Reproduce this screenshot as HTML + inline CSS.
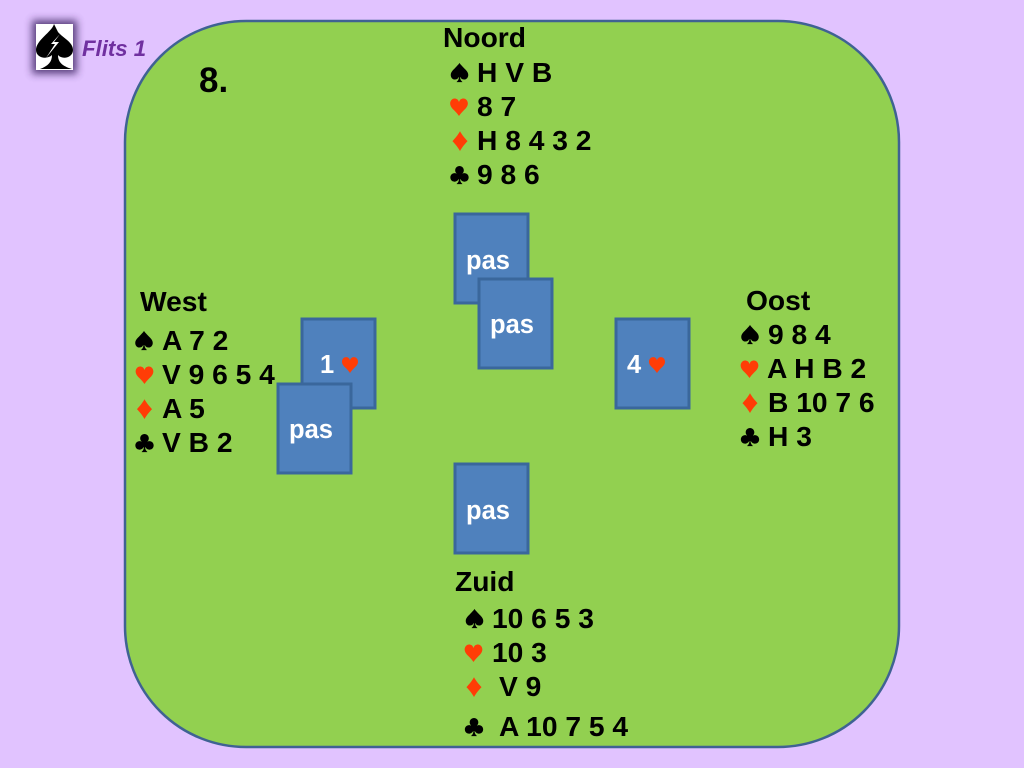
<!DOCTYPE html>
<html><head><meta charset="utf-8"><style>
html,body{margin:0;padding:0;background:#e1c3ff;width:1024px;height:768px;overflow:hidden}
svg{display:block}
text{font-family:"Liberation Sans",sans-serif;font-weight:bold;font-size:28.2px;fill:#000;white-space:pre}
.s{font-family:"Noto Sans CJK JP",sans-serif;font-size:21px;text-anchor:middle;font-weight:normal}
.r{fill:#ff3d06}
.w{fill:#fff;font-size:25.5px}
.c{fill:#4f81bd;stroke:#3a679c;stroke-width:3}
</style></head><body>
<svg width="1024" height="768" viewBox="0 0 1024 768" xmlns="http://www.w3.org/2000/svg">
<defs><filter id="b" x="-60%" y="-60%" width="220%" height="220%"><feGaussianBlur stdDeviation="4"/></filter></defs>
<rect x="125" y="21" width="774" height="726" rx="121" fill="#92d050" stroke="#3f6293" stroke-width="2.5"/>
<rect x="32" y="20" width="45" height="54" fill="#3a2060" opacity=".8" filter="url(#b)"/>
<rect x="36" y="24" width="37" height="46" fill="#fff"/>
<path d="M54 24C52 32 36 40 36 50C36 58 47 60 52 55C52 62 48 66 40 69L72 69C62 66 58 62 58 55C62 60 73 58 73 50C73 42 63 38 58 32Z" fill="#000"/>
<path d="M60 34L51 44L55 44L46 58L59 42L54 42Z" fill="#fff"/>
<text x="82" y="56" style="font-size:22.2px;font-style:italic;fill:#7030a0">Flits 1</text>
<text x="199" y="92" style="font-size:35px">8.</text>

<text x="443" y="47">Noord</text>
<text class="s" x="459.5" y="81">♠</text><text x="477" y="82">H V B</text>
<text class="s r" x="459" y="115">♥</text><text x="477" y="116">8 7</text>
<text class="s r" x="460" y="149">♦</text><text x="477" y="150">H 8 4 3 2</text>
<text class="s" x="459.5" y="183">♣</text><text x="477" y="184">9 8 6</text>

<text x="140" y="311">West</text>
<text class="s" x="144" y="349">♠</text><text x="162" y="350">A 7 2</text>
<text class="s r" x="144.5" y="383">♥</text><text x="162" y="384">V 9 6 5 4</text>
<text class="s r" x="144.5" y="417">♦</text><text x="162" y="418">A 5</text>
<text class="s" x="144.5" y="451">♣</text><text x="162" y="452">V B 2</text>

<text x="746" y="310">Oost</text>
<text class="s" x="750" y="343">♠</text><text x="768" y="344">9 8 4</text>
<text class="s r" x="749.5" y="377">♥</text><text x="767" y="378">A H B 2</text>
<text class="s r" x="750" y="411">♦</text><text x="768" y="412">B 10 7 6</text>
<text class="s" x="750" y="445">♣</text><text x="768" y="446">H 3</text>

<text x="455" y="591">Zuid</text>
<text class="s" x="474.5" y="627">♠</text><text x="492" y="628">10 6 5 3</text>
<text class="s r" x="473.5" y="661">♥</text><text x="492" y="662">10 3</text>
<text class="s r" x="474" y="695">♦</text><text x="499" y="696">V 9</text>
<text class="s" x="474" y="735">♣</text><text x="499" y="736">A 10 7 5 4</text>

<rect class="c" x="455" y="214" width="73" height="89"/>
<text class="w" x="466" y="269">pas</text>
<rect class="c" x="479" y="279" width="73" height="89"/>
<text class="w" x="490" y="333">pas</text>
<rect class="c" x="302" y="319" width="73" height="89"/>
<text class="w" x="320" y="373">1</text>
<text class="s r" x="350" y="372" style="font-size:19px">♥</text>
<rect class="c" x="278" y="384" width="73" height="89"/>
<text class="w" x="289" y="438">pas</text>
<rect class="c" x="616" y="319" width="73" height="89"/>
<text class="w" x="627" y="373">4</text>
<text class="s r" x="657" y="372" style="font-size:19px">♥</text>
<rect class="c" x="455" y="464" width="73" height="89"/>
<text class="w" x="466" y="519">pas</text>
</svg>
</body></html>
